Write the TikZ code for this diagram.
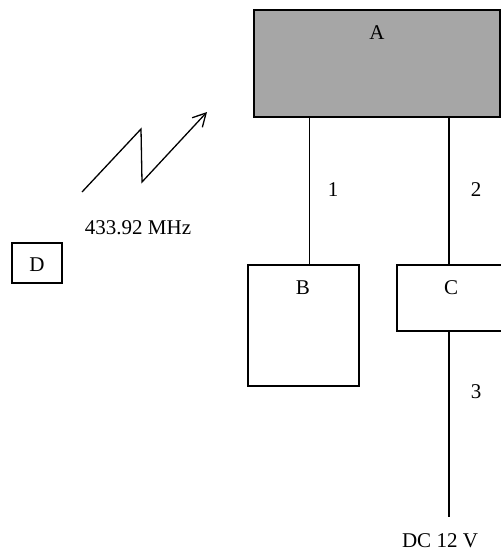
\documentclass[tikz,border=0pt]{standalone}
\usepackage{fontspec}
\setmainfont{Liberation Serif}
\usetikzlibrary{arrows.meta,positioning,calc}

\begin{document}
\begin{tikzpicture}[
  x=1pt,y=-1pt,
  font=\fontsize{21}{25}\selectfont,
  blk/.style={draw=black,line width=1.3pt,inner sep=0pt},
  link/.style={draw=black,line width=1.3pt},
  radio/.style={draw=black,line width=1.3pt,-{Straight Barb[length=13pt,width=14pt]}},
  lbl/.style={inner sep=0pt}
]

% ---- frame ----
\useasboundingbox (0,0) rectangle (501,555);

% ---- blocks ----
\node[blk,fill=black!35,minimum width=246pt,minimum height=107pt] (A) at (377,63.5) {};
\node[blk,minimum width=111pt,minimum height=121pt] (B) at (303.5,325.5) {};
\node[blk,minimum width=106pt,minimum height=66pt] (C) at (450,298) {};
\node[blk,minimum width=50pt,minimum height=40pt] (D) at (37,263) {};

% block letters
\node[lbl] (Alab) at (377,33) {A};
\node[lbl] (Blab) at (303,288) {B};
\node[lbl] (Clab) at (451,288) {C};
\node[lbl] (Dlab) at (37,265) {D};

% ---- wires ----
\draw[link] ([xshift=6pt]B.north) -- ([xshift=6pt]B.north |- A.south);
\draw[link] ([xshift=-1pt]C.north) -- ([xshift=-1pt]C.north |- A.south);
\coordinate (dc) at (449,517);
\draw[link] ([xshift=-1pt]C.south) -- (dc);

\node[lbl] (w1) at (333,190) {1};
\node[lbl] (w2) at (476,190) {2};
\node[lbl] (w3) at (476,392) {3};
\node[lbl] (dclab) at (440,541) {DC 12 V};

% ---- radio link ----
\coordinate (r0) at (82,192);
\coordinate (r1) at (141,129);
\coordinate (r2) at (142,182);
\coordinate (r3) at (207,112);
\draw[radio] (r0) -- (r1) -- (r2) -- (r3);
\node[lbl] (freq) at (138,228) {433.92 MHz};

\end{tikzpicture}
\end{document}
